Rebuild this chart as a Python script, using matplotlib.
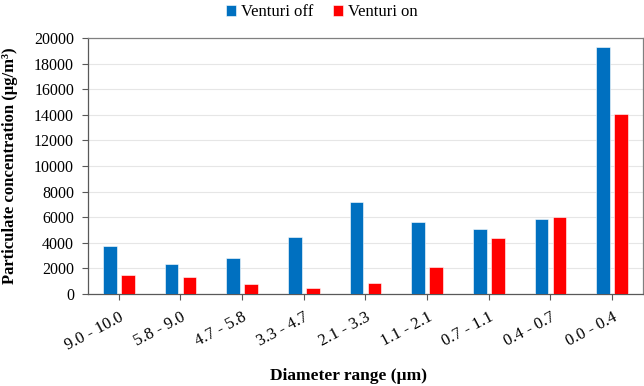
import numpy as np
import matplotlib.pyplot as plt

plt.rcParams['font.family'] = ['Liberation Serif', 'DejaVu Serif']

ranges = ["9.0 - 10.0", "5.8 - 9.0", "4.7 - 5.8", "3.3 - 4.7", "2.1 - 3.3",
          "1.1 - 2.1", "0.7 - 1.1", "0.4 - 0.7", "0.0 - 0.4"]
venturi_off = [3760, 2340, 2810, 4480, 7150, 5600, 5050, 5830, 19300]
venturi_on = [1510, 1300, 810, 440, 860, 2110, 4350, 6020, 14060]

x = np.arange(len(ranges))
w = 0.22

fig = plt.figure(figsize=(6.44, 3.86), dpi=100)
ax = fig.add_axes([0.1366, 0.2383, 0.8618, 0.6633])

ax.bar(x - 0.145, venturi_off, w, color="#0070C0", edgecolor="white", linewidth=0.4, label="Venturi off", zorder=3)
ax.bar(x + 0.145, venturi_on, w, color="#FF0000", edgecolor="white", linewidth=0.4, label="Venturi on", zorder=3)

ax.set_xlim(-0.5, len(ranges) - 0.5)
ax.set_ylim(0, 20000)
ax.set_yticks(np.arange(0, 20001, 2000))
ax.yaxis.grid(True, color="#e6e6e6", linewidth=0.8, zorder=0)
ax.set_axisbelow(True)

ax.set_xticks(x)
ax.set_xticklabels(ranges, rotation=28, ha="right", rotation_mode="anchor", fontsize=12)
ax.tick_params(axis="y", labelsize=11.5, length=4, color="#595959", pad=6)
ax.tick_params(axis="x", length=4, color="#595959", pad=7)
for s in ax.spines.values():
    s.set_color("#808080")
    s.set_linewidth(0.9)
ax.spines["left"].set_color("#595959")
ax.spines["bottom"].set_color("#595959")

ax.set_ylabel("Particulate concentration (µg/m³)", fontsize=12, fontweight="bold")
ax.yaxis.set_label_coords(-0.126, 0.5)
ax.set_xlabel("Diameter range (µm)", fontsize=12.5, fontweight="bold")
ax.xaxis.set_label_coords(0.47, -0.29)

ax.legend(loc="upper center", bbox_to_anchor=(0.5, 1.01), bbox_transform=fig.transFigure,
          ncol=2, frameon=False, fontsize=12, handlelength=0.6, handleheight=0.6,
          handletextpad=0.3, columnspacing=1.2, borderaxespad=0.1)

fig.savefig("out.png", dpi=100)
